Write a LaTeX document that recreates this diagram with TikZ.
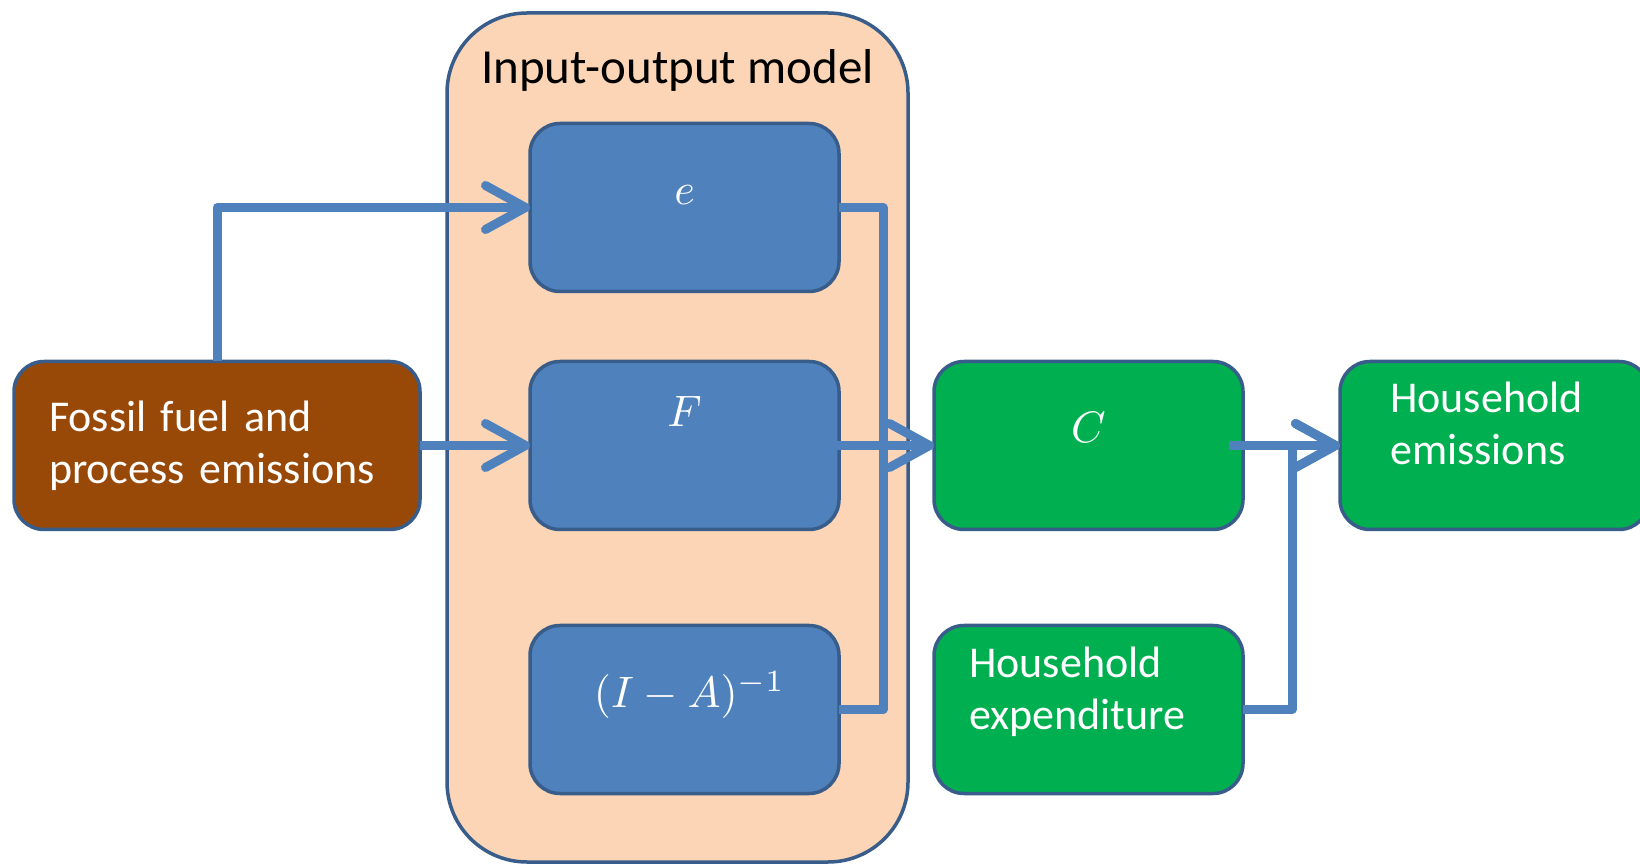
\documentclass[tikz,border=0pt]{standalone}
\usepackage{fontspec}
\setmainfont{Carlito}
\usetikzlibrary{positioning,arrows.meta,calc}
\definecolor{ioblue}{HTML}{4F81BD}
\definecolor{ioedge}{HTML}{385D8A}
\definecolor{iogreen}{HTML}{00B050}
\definecolor{iobrown}{HTML}{984807}
\definecolor{iopeach}{HTML}{FBD5B5}
\tikzset{
  io box/.style={draw=ioedge, fill=iopeach, line width=3.5pt, rounded corners=80pt, outer sep=0pt, minimum width=461pt, minimum height=849pt},
  io title/.style={font=\fontsize{49}{57}\selectfont, text=black, inner sep=0pt},
  box/.style={draw=ioedge, line width=3.5pt, rounded corners=30pt, outer sep=0pt, inner sep=0pt, minimum height=168pt, text=white, font=\fontsize{44}{52}\selectfont},
  calc box/.style={box, fill=ioblue, minimum width=309pt},
  house box/.style={box, fill=iogreen, minimum width=309pt},
  source box/.style={box, fill=iobrown, minimum width=406pt, text width=336pt, align=left},
  sym/.style={text=white, inner sep=0pt, font=\fontsize{10}{12}\selectfont, scale=4.4, transform shape},
  box text/.style={text=white, inner sep=0pt, text width=250pt, align=left, font=\fontsize{44}{52}\selectfont},
  flow/.style={draw=ioblue, line width=9pt, line join=round},
  flow arrow/.style={flow, -{Straight Barb[round, length=40pt, width=44pt]}},
}

\begin{document}
\begin{tikzpicture}[x=1pt,y=1pt]
\useasboundingbox (0,0) rectangle (1640,865);
% the container
\node [io box] (io) at (677.5,427.5) {};
\node [io title, anchor=base] (io-title) at ($(io.north)+(0,-71)$) {Input-output model};
% the nodes
\node [source box] (fossil) at (217,419.5) {Fossil fuel and\\process emissions};
\node [calc box, right=110pt of fossil] (F) {};
\node [calc box, above=70pt of F] (e) {};
\node [calc box, below=96pt of F] (IA) {};
\node [house box, right=95pt of F] (C) {};
\node [house box, right=97pt of C] (HE) {};
\node [house box, below=96pt of C] (HX) {};
% the labels
\node [sym, anchor=base] (e-sym) at ($(e.north)+(0,-81)$) {$e$};
\node [sym, anchor=base] (F-sym) at ($(F.north)+(0,-65)$) {$F$};
\node [sym, anchor=base] (IA-sym) at ($(IA.north)+(5,-82)$) {$(I-A)^{-1}$};
\node [sym, anchor=base] (C-sym) at ($(C.north)+(0,-81)$) {$C$};
\node [box text, anchor=base west] (HE-txt) at ($(HE.north west)+(50,-51)$) {Household\\emissions};
\node [box text, anchor=base west] (HX-txt) at ($(HX.north west)+(35,-52)$) {Household\\expenditure};
% bus points
\coordinate (bus) at ($(e.east)+(44,0)$);
\coordinate (hx-jn) at ($(HX.east)+(49,0)$);
%drawings of vectors
\draw[flow arrow] (fossil.north) |- (e.west);
\draw[flow arrow] (fossil.east) -- (F.west);
\draw[flow] (e.east) -- (e.east -| bus) -- (IA.east -| bus) -- (IA.east);
\draw[flow arrow, shorten <=-15pt] (F.east) -- (C.west);
\draw[flow arrow, shorten <=-14pt] (C.east) -- (HE.west);
\draw[flow arrow] (HX.east) -- (HX.east -| hx-jn) |- (HE.west);
\end{tikzpicture}
\end{document}
